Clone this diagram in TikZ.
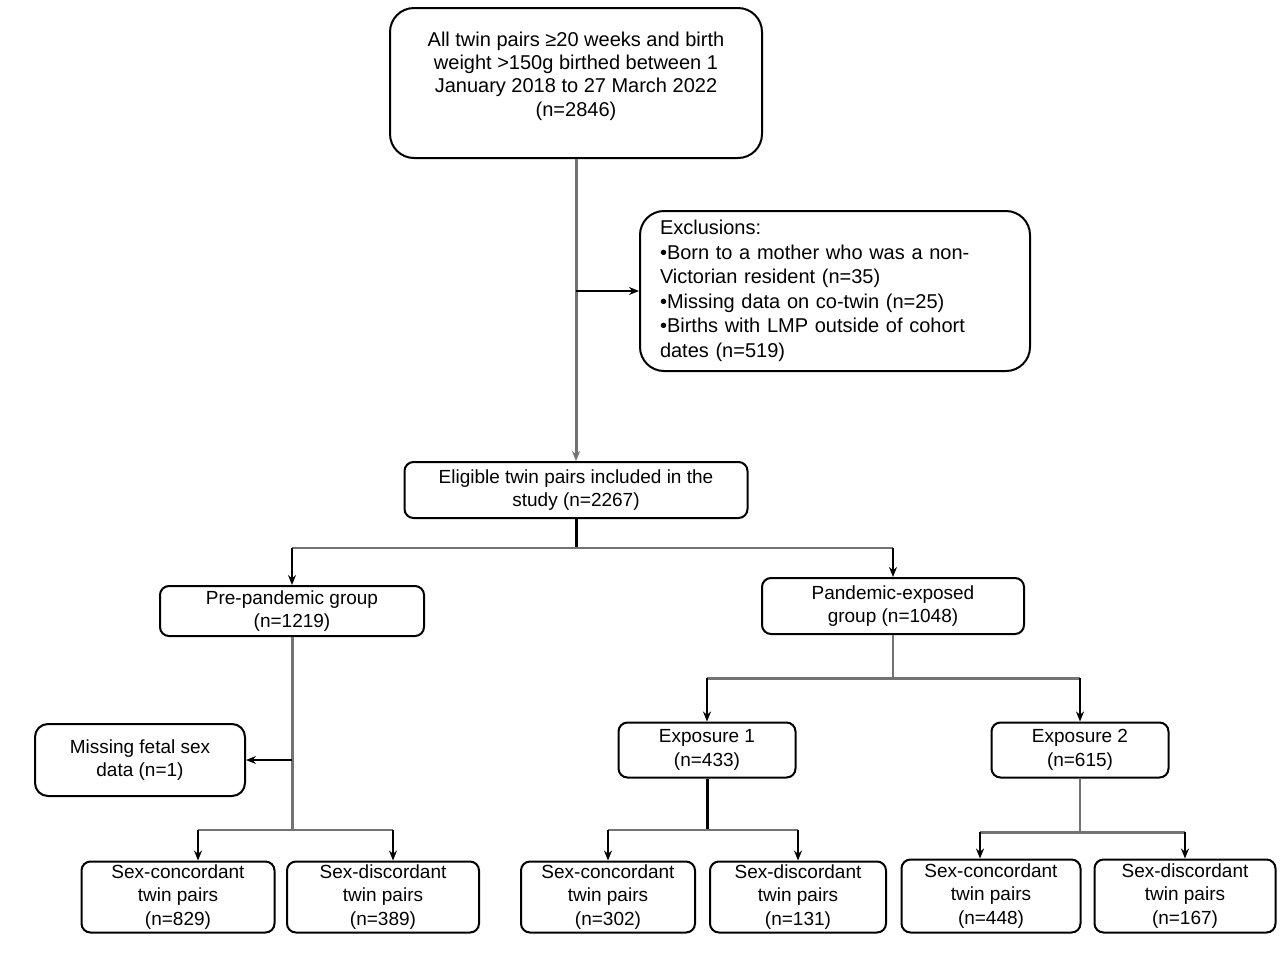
\documentclass[tikz,border=0pt]{standalone}
\usepackage{fontspec}
\setmainfont{Liberation Sans}
\usetikzlibrary{arrows.meta}
\begin{document}
\begin{tikzpicture}[x=1pt,y=-1pt,
  box/.style={draw=black, line width=2pt, rounded corners=9pt, align=center, inner sep=0pt,
    font=\fontsize{19}{23.5}\selectfont},
  big/.style={box, rounded corners=24pt, font=\fontsize{20}{23.3}\selectfont},
  tip/.style={-{Stealth[length=10pt,width=8pt]}},
  arr/.style={tip, line width=1.5pt, draw=black},
  garr/.style={tip, line width=3pt, draw=black!55},
  gline/.style={line width=2.5pt, draw=black!55},
  bline/.style={line width=3pt, draw=black},
  thin/.style={line width=1.2pt, draw=black!55}]
\useasboundingbox (0,0) rectangle (1280,962);

% boxes
\node[big, minimum width=372pt, minimum height=150pt] (top) at (576,83)
  {All twin pairs ≥20 weeks and birth\\weight >150g birthed between 1\\January 2018 to 27 March 2022\\(n=2846)\\[-12pt]\strut};
\node[big, text width=350pt, align=left, inner xsep=20pt, minimum height=160pt,
  font=\fontsize{20}{24.5}\selectfont] (exc) at (835,291)
  {Exclusions:\\•Born to a mother who was a non-\\Victorian resident (n=35)\\•Missing data on co-twin (n=25)\\•Births with LMP outside of cohort\\dates (n=519)};
\node[box, minimum width=343pt, minimum height=56pt] (elig) at (576,490)
  {Eligible twin pairs included in the\\study (n=2267)};
\node[box, minimum width=264pt, minimum height=50pt] (pre) at (292,611)
  {Pre-pandemic group\\(n=1219)};
\node[box, minimum width=262pt, minimum height=56pt] (pan) at (893,606)
  {Pandemic-exposed\\group (n=1048)};
\node[box, rounded corners=13pt, minimum width=210pt, minimum height=72pt] (miss) at (140,760)
  {Missing fetal sex\\data (n=1)};
\node[box, minimum width=177pt, minimum height=55pt] (ex1) at (707,750)
  {Exposure 1\\(n=433)};
\node[box, minimum width=177pt, minimum height=55pt] (ex2) at (1080,750)
  {Exposure 2\\(n=615)};
\node[box, minimum width=193pt, minimum height=71pt] (sc1) at (178,897)
  {Sex-concordant\\twin pairs\\(n=829)};
\node[box, minimum width=192pt, minimum height=71pt] (sd1) at (383,897)
  {Sex-discordant\\twin pairs\\(n=389)};
\node[box, minimum width=174pt, minimum height=71pt] (sc2) at (608,897)
  {Sex-concordant\\twin pairs\\(n=302)};
\node[box, minimum width=176pt, minimum height=71pt] (sd2) at (798,897)
  {Sex-discordant\\twin pairs\\(n=131)};
\node[box, minimum width=179pt, minimum height=73pt] (sc3) at (991,896)
  {Sex-concordant\\twin pairs\\(n=448)};
\node[box, minimum width=181pt, minimum height=73pt] (sd3) at (1185,896)
  {Sex-discordant\\twin pairs\\(n=167)};

% junction points
\coordinate (j1) at (576,548);
\coordinate (j2) at (292,830);
\coordinate (jm) at (292,760);
\coordinate (j3) at (893,678);
\coordinate (j4) at (707,830);
\coordinate (j5) at (1080,832);

% connectors
\draw[garr] (top.south) -- (elig.north);
\draw[arr] (top.south |- exc.west) -- (exc.west);
\draw[bline] (elig.south) -- (j1);
\draw[gline] (j1 -| pre.north) -- (j1 -| pan.north);
\draw[arr] (j1 -| pre.north) -- (pre.north);
\draw[arr] (j1 -| pan.north) -- (pan.north);

\draw[gline, line width=3pt] (pre.south) -- (j2);
\draw[arr] (jm) -- (miss.east);
\draw[gline, line width=2pt] ([xshift=20pt]sc1.north |- j2) -- ([xshift=10pt]sd1.north |- j2);
\draw[arr] ([xshift=20pt]sc1.north |- j2) -- ([xshift=20pt]sc1.north);
\draw[arr] ([xshift=10pt]sd1.north |- j2) -- ([xshift=10pt]sd1.north);

\draw[thin] (pan.south) -- (j3);
\draw[gline, line width=3pt] (j3 -| ex1.north) -- (j3 -| ex2.north);
\draw[arr, line width=2pt] (j3 -| ex1.north) -- (ex1.north);
\draw[arr, line width=2pt] (j3 -| ex2.north) -- (ex2.north);

\draw[bline] (ex1.south) -- (j4);
\draw[gline, line width=2pt] (j4 -| sc2.north) -- (j4 -| sd2.north);
\draw[arr, line width=2pt] (j4 -| sc2.north) -- (sc2.north);
\draw[arr] (j4 -| sd2.north) -- (sd2.north);

\draw[thin] (ex2.south) -- (j5);
\draw[gline, line width=3pt] ([xshift=-11pt]sc3.north |- j5) -- (j5 -| sd3.north);
\draw[arr, line width=2pt] ([xshift=-11pt]sc3.north |- j5) -- ([xshift=-11pt]sc3.north);
\draw[arr, line width=2pt] (j5 -| sd3.north) -- (sd3.north);
\end{tikzpicture}
\end{document}
